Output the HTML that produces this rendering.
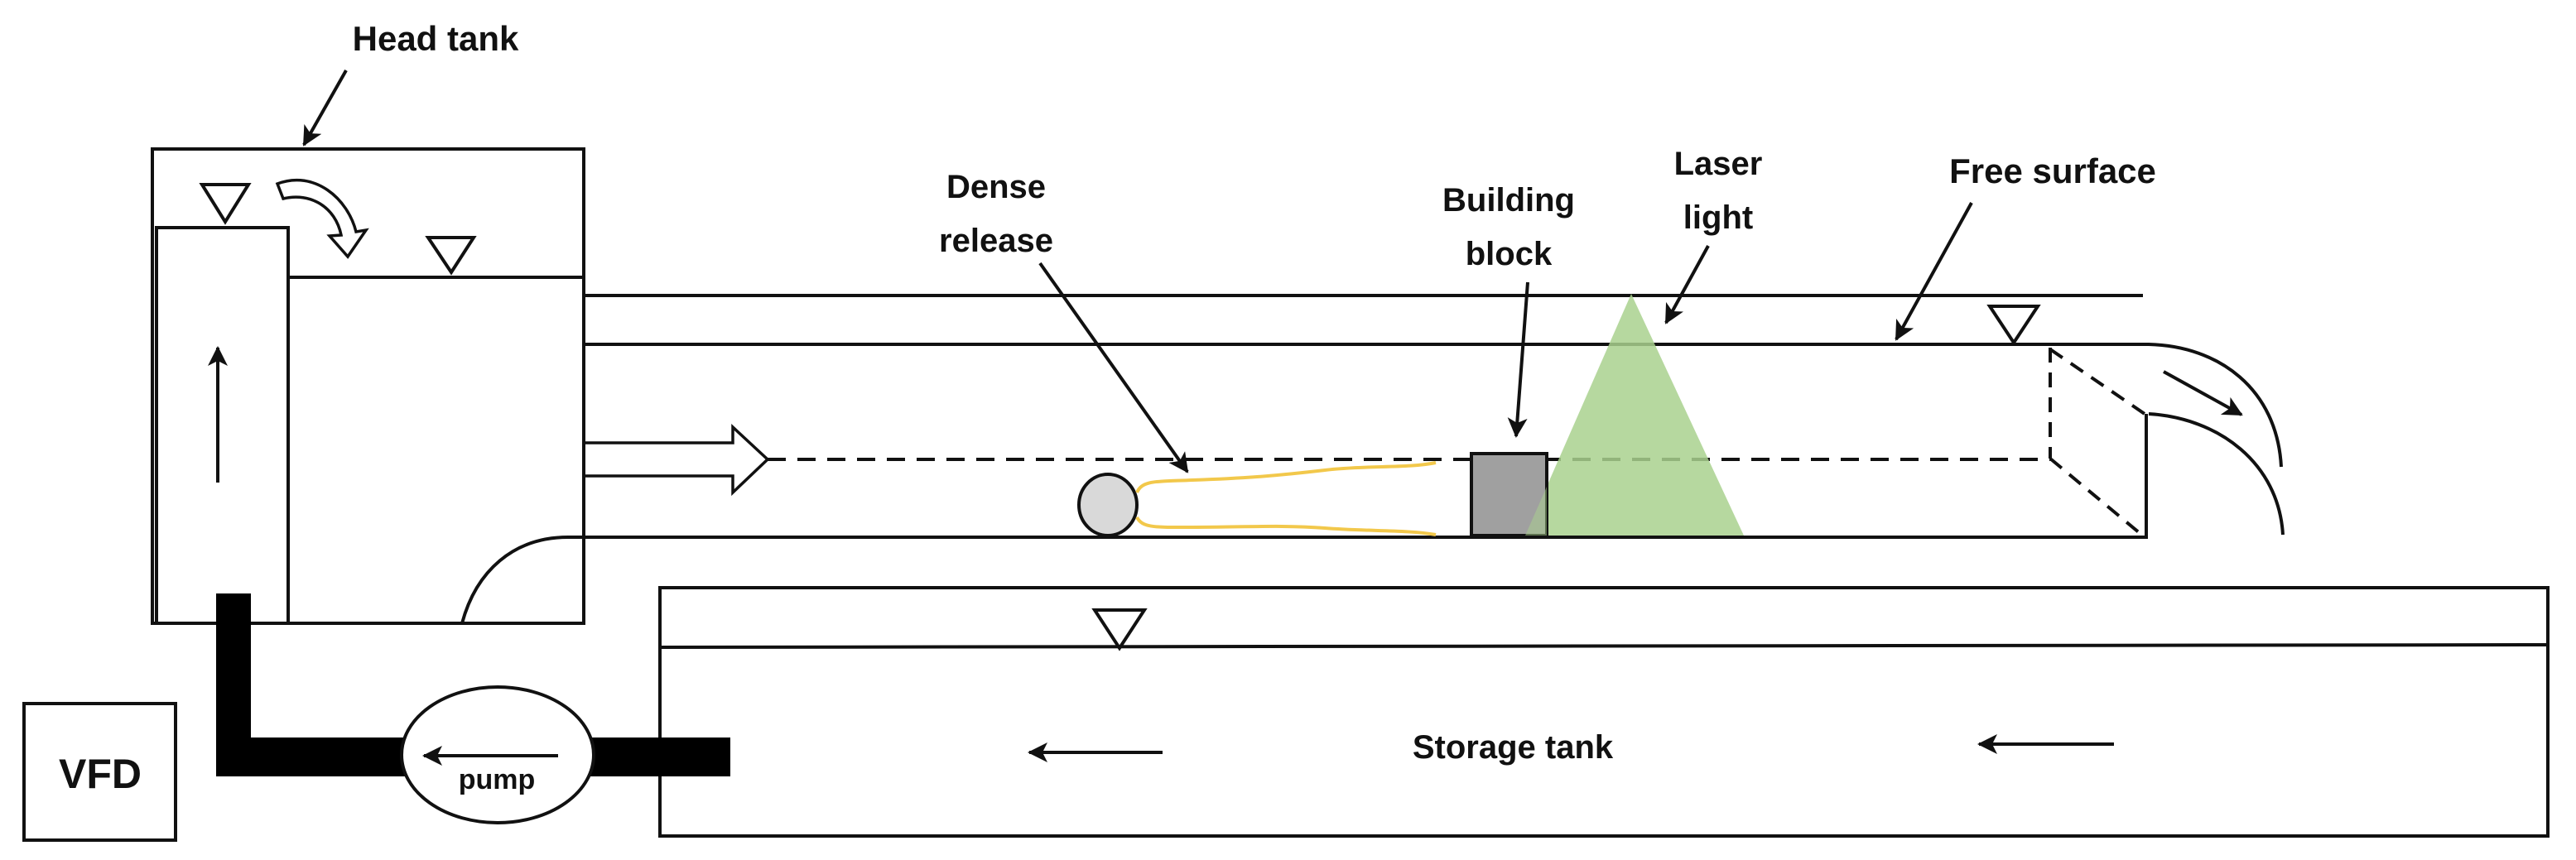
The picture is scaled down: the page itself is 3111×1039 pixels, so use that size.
<!DOCTYPE html>
<html><head><meta charset="utf-8"><style>html,body{margin:0;padding:0;background:#fff}svg{display:block}</style></head>
<body>
<svg width="3111" height="1039" viewBox="0 0 3111 1039" xmlns="http://www.w3.org/2000/svg" font-family="Liberation Sans, sans-serif" font-weight="bold" fill="none" stroke="#111" stroke-width="4">
<defs>
<marker id="ah" markerWidth="10" markerHeight="10" refX="8" refY="5" orient="auto" markerUnits="userSpaceOnUse" viewBox="0 0 10 10"><path d="M0,0 L10,5 L0,10 L3,5 z" fill="#111" stroke="none" transform="scale(1)"/></marker>
<marker id="ah2" markerWidth="26" markerHeight="24" refX="22" refY="12" orient="auto" markerUnits="userSpaceOnUse"><path d="M0,0 L24,12 L0,24 L6,12 z" fill="#111" stroke="none"/></marker>
</defs>
<!-- Head tank -->
<rect x="184" y="180" width="521" height="573"/>
<polyline points="189,753 189,275 348,275 348,753"/>
<line x1="348" y1="335" x2="705" y2="335"/>
<path d="M244,223 L300,223 L272,268 Z"/>
<path d="M517,287 L572,287 L545,329 Z"/>
<!-- curved hollow arrow -->
<path d="M335,222 C380,205 420,240 430,280 L442,278 L420,310 L398,285 L412,284 C405,250 375,232 342,240 Z" stroke-width="3.5"/>
<line x1="263" y1="583" x2="263" y2="420" marker-end="url(#ah2)"/>
<text x="526" y="61" font-size="42" fill="#111" stroke="none" text-anchor="middle">Head tank</text>
<line x1="418" y1="85" x2="367" y2="175" marker-end="url(#ah2)"/>
<!-- channel -->
<line x1="705" y1="357" x2="2588" y2="357"/>
<path d="M705,416 L2595,416 C2680,418 2750,470 2755,564"/>
<line x1="705" y1="358" x2="705" y2="649" stroke-dasharray="22,14"/>
<path d="M558,753 C575,690 620,649 686,649 L2592,649 L2592,500"/>
<path d="M2595,500 C2680,505 2752,560 2757,646"/>
<line x1="2476" y1="420" x2="2476" y2="554" stroke-dasharray="18,12"/>
<line x1="927" y1="555" x2="2476" y2="555" stroke-dasharray="22,14"/>
<line x1="2476" y1="422" x2="2590" y2="500" stroke-dasharray="18,12"/>
<line x1="2476" y1="554" x2="2590" y2="649" stroke-dasharray="18,12"/>
<line x1="2613" y1="449" x2="2707" y2="501" marker-end="url(#ah2)"/>
<!-- hollow flow arrow -->
<path d="M707,535 L885,535 L885,516 L927,555 L885,595 L885,575 L707,575" stroke-width="3.5"/>
<!-- free surface -->
<path d="M2403,370 L2461,370 L2432,414 Z"/>
<text x="2479" y="221" font-size="42" fill="#111" stroke="none" text-anchor="middle">Free surface</text>
<line x1="2381" y1="245" x2="2290" y2="410" marker-end="url(#ah2)"/>
<!-- laser -->
<polygon points="1970,355 1842,647 2106,647" fill="#a9d18e" fill-opacity="0.85" stroke="none"/>
<text x="2075" y="211" font-size="40" fill="#111" stroke="none" text-anchor="middle">Laser</text>
<text x="2075" y="276" font-size="40" fill="#111" stroke="none" text-anchor="middle">light</text>
<line x1="2063" y1="297" x2="2012" y2="390" marker-end="url(#ah2)"/>
<!-- building block -->
<rect x="1777" y="548" width="91" height="99" fill="#a0a0a0" stroke-width="4"/>
<polygon points="1842,647 1868,588 1868,647" fill="#a9d18e" fill-opacity="0.5" stroke="none"/>
<text x="1822" y="255" font-size="40" fill="#111" stroke="none" text-anchor="middle">Building</text>
<text x="1822" y="320" font-size="40" fill="#111" stroke="none" text-anchor="middle">block</text>
<line x1="1845" y1="341" x2="1831" y2="527" marker-end="url(#ah2)"/>
<!-- dense release -->
<ellipse cx="1338" cy="610" rx="35" ry="37" fill="#d9d9d9"/>
<path d="M1373,595 C1380,580 1395,582 1440,580 C1500,578 1540,575 1600,568 C1650,562 1700,566 1734,559" stroke="#f2c84b" stroke-width="4"/>
<path d="M1373,625 C1380,638 1395,637 1440,637 C1500,637 1550,634 1600,638 C1650,642 1700,640 1734,646" stroke="#f2c84b" stroke-width="4"/>
<text x="1203" y="239" font-size="40" fill="#111" stroke="none" text-anchor="middle">Dense</text>
<text x="1203" y="304" font-size="40" fill="#111" stroke="none" text-anchor="middle">release</text>
<line x1="1256" y1="318" x2="1434" y2="570" marker-end="url(#ah2)"/>
<!-- storage tank -->
<rect x="797" y="710" width="2280" height="300"/>
<line x1="797" y1="782" x2="3077" y2="779"/>
<path d="M1322,737 L1382,737 L1352,783 Z"/>
<text x="1827" y="916" font-size="40" fill="#111" stroke="none" text-anchor="middle">Storage tank</text>
<line x1="1404" y1="909" x2="1243" y2="909" marker-end="url(#ah2)"/>
<line x1="2553" y1="899" x2="2390" y2="899" marker-end="url(#ah2)"/>
<!-- pipe & pump -->
<path d="M261,717 L303,717 L303,891 L490,891 L490,938 L261,938 Z" fill="#000" stroke="none"/>
<rect x="710" y="891" width="172" height="47" fill="#000" stroke="none"/>
<ellipse cx="601" cy="912" rx="116" ry="82" fill="#fff"/>
<line x1="674" y1="913" x2="512" y2="913" marker-end="url(#ah2)"/>
<text x="600" y="953" font-size="34" fill="#111" stroke="none" text-anchor="middle">pump</text>
<!-- VFD -->
<rect x="29" y="850" width="183" height="165"/>
<text x="121" y="952" font-size="50" fill="#111" stroke="none" text-anchor="middle">VFD</text>
</svg>
</body></html>
